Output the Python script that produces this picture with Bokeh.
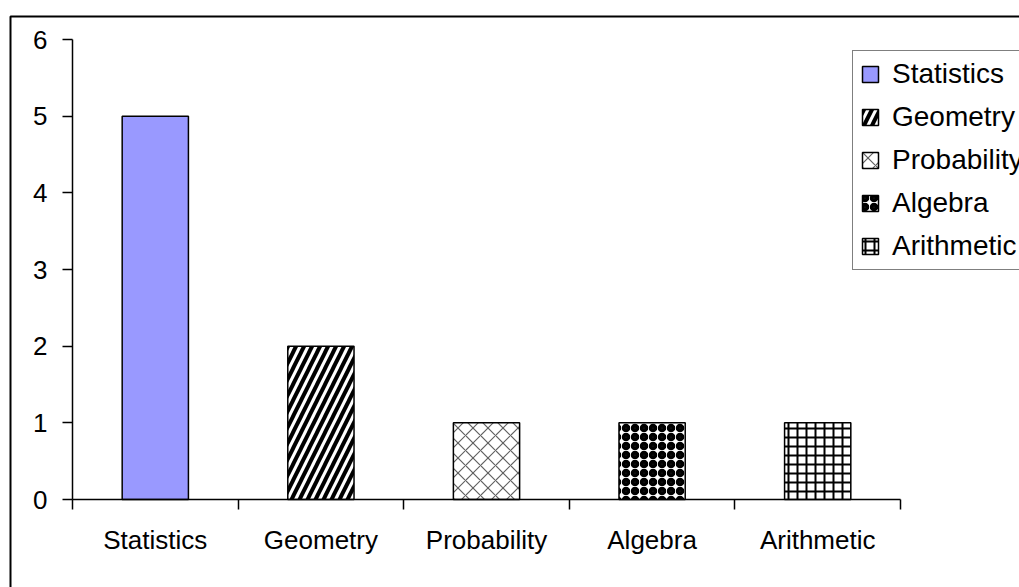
from bokeh.plotting import figure
from bokeh.models import (Range1d, LinearAxis, FixedTicker, Legend, LegendItem,
                          BoxAnnotation, ColumnDataSource)
from bokeh.embed import file_html
from bokeh.resources import INLINE

# Data
subjects = ["Statistics", "Geometry", "Probability", "Algebra", "Arithmetic"]
counts = [5, 2, 1, 1, 1]
y_ticks = [0, 1, 2, 3, 4, 5, 6]

# Per-bar fill styles
fills = ["#9999FF", "white", "white", "white", "white"]
hatches = [" ", "/", "x", "o", "+"]
hatch_colors = ["black", "black", "#606060", "black", "black"]
hatch_scales = [10, 16, 15, 9, 9]
hatch_weights = [1, 4, 1.2, 4, 2]

FONT = "Liberation Sans"
W, H = 1019, 587

# Slot index of each category along x (slot i spans i..i+1)
n = len(subjects)
centers = [i + 0.5 for i in range(n)]
edges = list(range(n + 1))

# The plotting frame fills the canvas; the axes sit at fixed data locations
p = figure(width=W, height=H,
           x_range=Range1d(-0.4348, 5.7186),
           y_range=Range1d(-1.1478, 6.5087),
           output_backend="svg", toolbar_location=None,
           x_axis_location=None, y_axis_location=None,
           min_border=0)
p.outline_line_color = None
p.grid.visible = False
p.background_fill_color = "white"
p.border_fill_color = "white"

# outer chart border
frame_box = BoxAnnotation(left=10, right=1300, top=16, bottom=900,
                          left_units="canvas", right_units="canvas",
                          top_units="canvas", bottom_units="canvas",
                          fill_alpha=0, line_color="black", line_alpha=1, line_width=2,
                          level="underlay")
p.add_layout(frame_box)

# y axis
yax = LinearAxis(fixed_location=0, bounds=(0, 6),
                 ticker=FixedTicker(ticks=y_ticks, minor_ticks=[]),
                 major_tick_out=10, major_tick_in=0, minor_tick_out=0,
                 axis_line_width=1.5, major_tick_line_width=1.5,
                 axis_line_color="black", major_tick_line_color="black",
                 major_label_text_font=FONT, major_label_text_font_size="26px",
                 major_label_text_color="black", major_label_standoff=15)
p.add_layout(yax, "left")

# x axis: line and ticks at category boundaries
edge_axis = LinearAxis(fixed_location=0, bounds=(0, n),
                       ticker=FixedTicker(ticks=edges, minor_ticks=[]),
                       major_tick_out=10, major_tick_in=0, minor_tick_out=0,
                       axis_line_width=1.5, major_tick_line_width=1.5,
                       axis_line_color="black", major_tick_line_color="black",
                       major_label_overrides={e: "" for e in edges},
                       major_label_standoff=0)
p.add_layout(edge_axis, "below")

# x axis: category names at slot centres
label_axis = LinearAxis(fixed_location=0, bounds=(0, n),
                        ticker=FixedTicker(ticks=centers, minor_ticks=[]),
                        axis_line_color=None, major_tick_line_color=None,
                        major_tick_out=0, major_tick_in=0, minor_tick_out=0,
                        major_label_overrides={c: s for c, s in zip(centers, subjects)},
                        major_label_text_font=FONT, major_label_text_font_size="26px",
                        major_label_text_color="black", major_label_standoff=25)
p.add_layout(label_axis, "below")

src = ColumnDataSource(dict(x=centers, subject=subjects, count=counts, fill=fills, hatch=hatches,
                            hcolor=hatch_colors, hscale=hatch_scales, hweight=hatch_weights))
bars = p.vbar(x="x", top="count", bottom=0, width=0.4, source=src,
              fill_color="fill", line_color="black", line_width=1.5,
              hatch_pattern="hatch", hatch_color="hcolor",
              hatch_scale="hscale", hatch_weight="hweight")

legend = Legend(items=[LegendItem(label=s, renderers=[bars], index=i) for i, s in enumerate(subjects)],
                location=(852, 317), margin=0, padding=7, spacing=11,
                glyph_width=20, glyph_height=20, label_height=30, label_standoff=12,
                label_text_font=FONT, label_text_font_size="28px", label_text_color="black",
                label_text_baseline="middle",
                border_line_color="black", border_line_width=1.5,
                background_fill_color="white", background_fill_alpha=1)
p.add_layout(legend)

open("out.html", "w").write(file_html(p, INLINE))
